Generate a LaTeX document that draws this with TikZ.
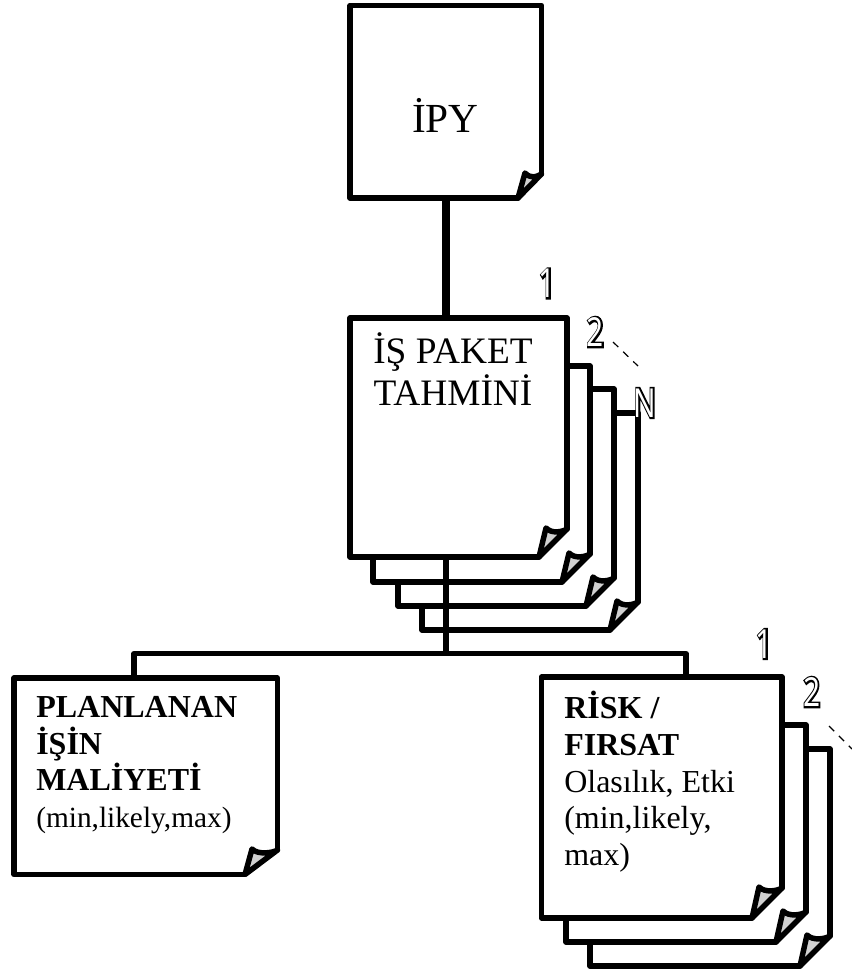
\documentclass[tikz,border=0pt]{standalone}
\usepackage{fontspec}
\setmainfont{Liberation Serif}
\newfontfamily\numfont{Open Sans}
\newfontfamily\numbold[FakeBold=9]{Open Sans}
\usetikzlibrary{fit}
\definecolor{foldgray}{gray}{0.82}
\tikzset{
  heavy/.style={line width=4.1pt,line join=round,line cap=round},
  label/.style={align=left,inner sep=0pt,anchor=north west,font=\fontsize{24}{27.5}\selectfont},
  numlabel/.style={inner sep=0pt,font=\fontsize{30}{30}\selectfont,xscale=0.75,transform shape},
}
% sheet with a turned corner: name, left, top, right, bottom, fold width, fold height
\newcommand{\sheet}[7]{
  \fill[white] (#2,#3) -- (#4,#3) -- (#4,#5-#7) -- (#4-#6,#5) -- (#2,#5) -- cycle;
  \draw[heavy] (#4-#6,#5) -- (#2,#5) -- (#2,#3) -- (#4,#3) -- (#4,#5-#7);
  \draw[heavy,fill=foldgray] (#4-#6,#5) -- (#4-#6+7,#5-#7-1) .. controls (#4-#6+13,#5-#7+5) and (#4-5,#5-#7+3) .. (#4,#5-#7) -- cycle;
  \coordinate (#1 a) at (#2,#3);
  \coordinate (#1 b) at (#4,#5);
  \node[fit=(#1 a)(#1 b),inner sep=0pt] (#1) {};
}
\newcommand{\hollow}[1]{\rlap{\numbold #1}{\color{white}\numfont #1}}
\begin{document}
\begin{tikzpicture}[x=0.75pt,y=-0.75pt]
  \useasboundingbox (0,0) rectangle (852,976);
  % top sheet
  \sheet{ipy}{350}{5.5}{541.5}{198}{23.5}{24}
  \node[inner sep=0pt,font=\fontsize{31}{31}\selectfont,anchor=base] (ipytext) at (445.5,132) {İPY};
  % work package stack, back to front
  \sheet{paketn}{422}{413}{638}{630}{28}{28}
  \sheet{paketc}{398}{389}{614}{606}{28}{28}
  \sheet{paketb}{373}{366}{590}{582}{28}{28}
  \sheet{paket}{350}{318}{567}{557}{28}{28}
  \node[align=center,inner sep=0pt,font=\fontsize{28}{32}\selectfont,anchor=north] (pakettext) at (453,332) {İŞ PAKET\\TAHMİNİ};
  \coordinate (junction) at (446,653.5);
  \coordinate (busleft) at (134,653.5);
  \coordinate (busright) at (686,653.5);
  % lower sheets
  \sheet{plan}{14}{678}{277.5}{874.5}{32.5}{24.5}
  \sheet{riskc}{590}{749}{830}{966}{30}{30}
  \sheet{riskb}{566}{725}{806}{942}{30}{30}
  \sheet{risk}{541.5}{677}{782}{918}{30}{30}
  \node[label] (plantext) at (36,696) {\textbf{PLANLANAN}\\\textbf{İŞİN}\\\textbf{MALİYETİ}\\\fontsize{22}{26}\selectfont(min,likely,max)};
  \node[label] (risktext) at (564,691) {\textbf{RİSK /}\\\textbf{FIRSAT}\\Olasılık, Etki\\(min,likely,\\max)};
  % connectors
  \draw[line width=6pt] (ipy.south -| junction) -- (paket.north -| junction);
  \draw[line width=3.9pt] (paket.south -| junction) -- (junction);
  \draw[line width=3.9pt,line join=round] (plan.north -| busleft) -- (busleft) -- (busright) -- (risk.north -| busright);
  % outlined counters
  \node[numlabel] (numa) at (547.5,283.5) {\hollow{1}};
  \node[numlabel] (numb) at (595.5,332) {\hollow{2}};
  \node[numlabel] (numn) at (645,403) {\hollow{N}};
  \node[numlabel] (numc) at (764.5,644) {\hollow{1}};
  \node[numlabel] (numd) at (812,692) {\hollow{2}};
  \coordinate (dashend) at (638,366);
  \coordinate (dashstart) at (613,342);
  \coordinate (edgeend) at (852,749);
  \coordinate (edgestart) at (829,726);
  \draw[line width=0.9pt,dash pattern=on 5.5pt off 5pt] (dashstart) -- (dashend);
  \draw[line width=0.9pt,dash pattern=on 5.5pt off 5pt] (edgestart) -- (edgeend);
\end{tikzpicture}
\end{document}
